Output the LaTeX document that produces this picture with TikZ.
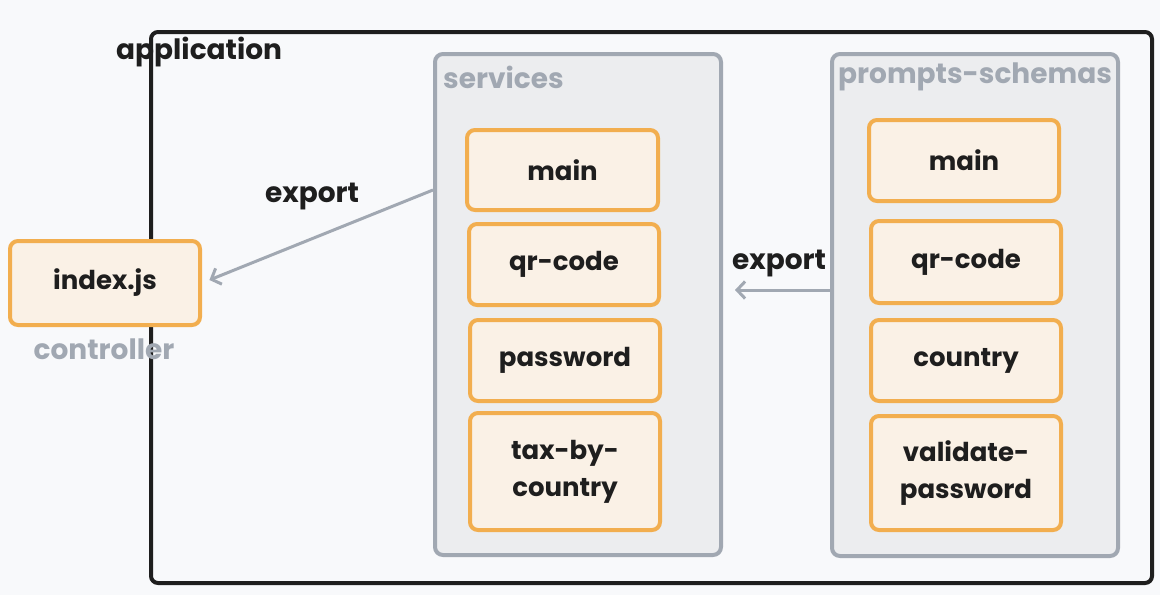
\documentclass[tikz,border=0pt]{standalone}
\usepackage{fontspec}
\setmainfont{Poppins}
\usetikzlibrary{arrows.meta}
\definecolor{bg}{HTML}{F8F9FB}
\definecolor{ink}{HTML}{1E1E1E}
\definecolor{grayline}{HTML}{A1A8B2}
\definecolor{grayfill}{HTML}{ECEDEF}
\definecolor{orangeline}{HTML}{F2AE4F}
\definecolor{orangefill}{HTML}{FAF1E6}
\tikzset{
  x=1pt,y=-1pt,
  appbox/.style={draw=ink,line width=4pt,rounded corners=7pt,inner sep=0pt},
  groupbox/.style={draw=grayline,fill=grayfill,line width=4pt,rounded corners=8pt,inner sep=0pt},
  itembox/.style={draw=orangeline,fill=orangefill,line width=4pt,rounded corners=8pt,inner sep=0pt,
    text=ink,font=\fontsize{26}{37}\selectfont\bfseries,align=center},
  grouptitle/.style={text=grayline,font=\fontsize{28}{32}\selectfont\bfseries,inner sep=0pt},
  lbl/.style={text=ink,font=\fontsize{28}{32}\selectfont\bfseries,inner sep=0pt},
  arr/.style={draw=grayline,line width=3pt,-{Straight Barb[length=8pt,width=17pt,line width=3pt]}},
}
\begin{document}
\begin{tikzpicture}
\useasboundingbox[fill=bg] (0,0) rectangle (1160,595);
% application container
\node[appbox,minimum width=1001pt,minimum height=551pt] (app) at (651.5,307.5) {};
\node[lbl,anchor=west] (apptitle) at (116,52) {application};
% groups
\node[groupbox,minimum width=286pt,minimum height=501pt] (svc) at (578,304.5) {};
\node[grouptitle,anchor=west] (svctitle) at (443,77) {services};
\node[groupbox,minimum width=286pt,minimum height=502pt] (ps) at (975,305) {};
\node[grouptitle,anchor=west] (pstitle) at (838,77) {prompts-schemas};
% services items
\node[itembox,minimum width=191pt,minimum height=80pt] (smain) at (562.5,170) {main};
\node[itembox,minimum width=190pt,minimum height=81pt] (sqr) at (564,264.5) {qr-code};
\node[itembox,minimum width=190pt,minimum height=81pt] (spw) at (565,360.5) {password};
\node[itembox,minimum width=190pt,minimum height=117pt] (stax) at (565,471.5) {tax-by-\\country};
% prompts items
\node[itembox,minimum width=190pt,minimum height=81pt] (pmain) at (964,160.5) {main};
\node[itembox,minimum width=190pt,minimum height=82pt] (pqr) at (966,262) {qr-code};
\node[itembox,minimum width=190pt,minimum height=81pt] (pcountry) at (966,360.5) {country};
\node[itembox,minimum width=190pt,minimum height=114pt] (pval) at (966,473) {validate-\\password};
% controller
\node[itembox,minimum width=190pt,minimum height=84pt] (idx) at (105,283) {index.js};
\node[grouptitle] (ctrl) at (104,349) {controller};
% connectors
\draw[arr,shorten >=8pt] ([yshift=114.5pt]svc.west) -- (idx.east);
\node[lbl] (exp1) at (312,197) {export};
\draw[arr,shorten >=12pt] ([yshift=15pt]ps.west) -- ([yshift=15pt]ps.west -| svc.east);
\node[lbl] (exp2) at (779,264) {export};
\end{tikzpicture}
\end{document}
